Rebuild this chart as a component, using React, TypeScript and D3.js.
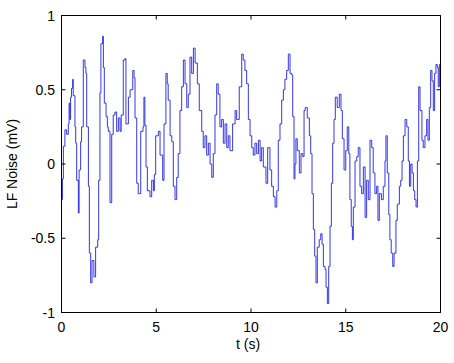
import React from "react";
import * as d3 from "d3";

const times: number[] = [
  0, 0.05, 0.1, 0.18, 0.27, 0.36, 0.4, 0.44, 0.48, 0.53, 0.59, 0.62, 0.71, 0.75, 0.8, 0.89, 0.93,
  1.01, 1.06, 1.15, 1.24, 1.29, 1.33, 1.42, 1.47, 1.54, 1.61, 1.71, 1.8, 1.91, 1.96,
  2.03, 2.08, 2.17, 2.21, 2.26, 2.35, 2.42, 2.47, 2.56, 2.65, 2.73, 2.82, 2.91,
  3.0, 3.09, 3.15, 3.26, 3.35, 3.4, 3.53, 3.62, 3.76, 3.83, 3.88, 3.97,
  4.05, 4.18, 4.3, 4.35, 4.4, 4.46, 4.53, 4.67, 4.76, 4.85, 4.9, 4.97,
  5.11, 5.2, 5.34, 5.41, 5.51, 5.58, 5.63, 5.73, 5.82, 5.9, 5.99,
  6.08, 6.16, 6.25, 6.34, 6.43, 6.52, 6.61, 6.69, 6.78, 6.87, 6.96,
  7.05, 7.17, 7.27, 7.4, 7.48, 7.57, 7.66, 7.75, 7.84, 7.93,
  8.01, 8.1, 8.19, 8.27, 8.36, 8.45, 8.54, 8.63, 8.72, 8.8, 8.89,
  9.03, 9.16, 9.24, 9.38, 9.51, 9.59, 9.68, 9.77, 9.86, 9.95,
  10.04, 10.12, 10.21, 10.3, 10.39, 10.48, 10.56, 10.65, 10.79, 10.88,
  11.0, 11.09, 11.18, 11.27, 11.36, 11.44, 11.53, 11.62, 11.71, 11.79, 11.88, 11.97,
  12.06, 12.15, 12.2, 12.27, 12.32, 12.37, 12.44, 12.55, 12.64, 12.73, 12.8, 12.86, 12.97,
  13.08, 13.15, 13.22, 13.29, 13.36, 13.43, 13.5, 13.6, 13.68, 13.75, 13.82, 13.91, 13.96,
  14.03, 14.1, 14.17, 14.24, 14.31, 14.38, 14.45, 14.55, 14.66, 14.75, 14.82, 14.91,
  15.0, 15.08, 15.16, 15.22, 15.29, 15.35, 15.4, 15.49, 15.58, 15.66, 15.75, 15.84, 15.93,
  16.02, 16.1, 16.19, 16.28, 16.37, 16.45, 16.54, 16.63, 16.7, 16.77, 16.88, 16.98,
  17.07, 17.12, 17.19, 17.27, 17.33, 17.4, 17.48, 17.55, 17.65, 17.72, 17.83, 17.9, 17.97,
  18.04, 18.13, 18.22, 18.3, 18.36, 18.43, 18.5, 18.57, 18.64, 18.71, 18.78, 18.85, 18.92,
  19.02, 19.09, 19.18, 19.27, 19.34, 19.41, 19.48, 19.55, 19.62, 19.69, 19.76, 19.83, 19.88, 19.94, 20.0,
];

const noise: number[] = [
  -0.24, -0.1, 0.12, 0.23, 0.2, 0.27, 0.41, 0.3, 0.45, 0.51, 0.57, 0.46, 0.25, 0.14, -0.11, -0.33, -0.04,
  0.15, 0.25, 0.7, 0.65, 0.61, 0.25, -0.15, -0.6, -0.8, -0.65, -0.76, -0.56, -0.51, -0.11,
  0.48, 0.81, 0.86, 0.65, 0.41, 0.32, 0.25, 0.22, -0.26, 0.2, 0.33, 0.35, 0.22,
  0.31, 0.22, 0.33, 0.7, 0.71, 0.27, 0.45, 0.5, 0.63, 0.58, 0.31, -0.13,
  -0.2, 0.22, 0.25, 0.45, 0.26, -0.02, -0.18, -0.22, -0.11, -0.18, -0.07, 0.19,
  0.22, 0.06, -0.11, 0.27, 0.61, 0.54, 0.43, 0.19, 0.15, -0.15, -0.24,
  -0.09, 0.07, 0.36, 0.52, 0.7, 0.54, 0.38, 0.47, 0.72, 0.61, 0.78,
  0.68, 0.54, 0.36, 0.22, 0.11, 0.19, 0.06, 0.14, 0.0, -0.09,
  0.07, 0.33, 0.54, 0.47, 0.25, 0.3, 0.14, 0.27, 0.11, 0.19, 0.09,
  0.27, 0.36, 0.3, 0.52, 0.74, 0.7, 0.63, 0.54, 0.3, 0.19,
  0.11, 0.06, 0.14, 0.07, 0.16, 0.02, 0.11, -0.02, -0.13, 0.11,
  -0.04, -0.15, -0.22, -0.29, -0.18, 0.16, 0.27, 0.43, 0.5, 0.57, 0.63, 0.74,
  0.61, 0.6, 0.32, -0.1, 0.0, 0.17, 0.09, -0.06, 0.07, 0.05, 0.36, 0.38, 0.31,
  0.19, 0.07, -0.2, -0.44, -0.62, -0.8, -0.56, -0.51, -0.47, -0.54, -0.69, -0.71, -0.83,
  -0.94, -0.69, -0.42, -0.13, 0.14, 0.3, 0.45, 0.38, 0.47, 0.36, 0.17, -0.04,
  0.09, 0.25, 0.07, -0.24, -0.42, -0.51, -0.29, 0.02, 0.05, 0.11, -0.15, -0.2, -0.02,
  -0.36, -0.11, -0.24, 0.16, 0.11, -0.06, -0.2, -0.15, -0.38, -0.2, -0.24, -0.15,
  0.02, 0.19, -0.06, -0.34, -0.51, -0.6, -0.69, -0.6, -0.38, -0.27, -0.15, -0.11, 0.02,
  0.19, 0.3, 0.25, 0.02, -0.15, 0.0, -0.06, -0.18, -0.24, -0.29, 0.02, 0.52, 0.36,
  0.16, 0.11, 0.19, 0.3, 0.16, 0.38, 0.63, 0.56, 0.36, 0.61, 0.67, 0.65, 0.52, 0.67, 0.6,
];

const xTicks: number[] = [0, 5, 10, 15, 20];
const yTicks: number[] = [-1, -0.5, 0, 0.5, 1];
const xLabel = "t (s)";
const yLabel = "LF Noise (mV)";

export default function App() {
  const W = 454;
  const H = 363;
  const left = 61.5;
  const right = 440.5;
  const top = 15.5;
  const bottom = 312.5;
  const x = d3.scaleLinear().domain([0, 20]).range([left, right]);
  const y = d3.scaleLinear().domain([-1, 1]).range([bottom, top]);
  const pts: [number, number][] = times.map((t, i) => [t, noise[i]]);
  const line = d3
    .line<[number, number]>()
    .x((d) => x(d[0]))
    .y((d) => y(d[1]))
    .curve(d3.curveStepAfter);
  const tl = 4;
  const font = "'Liberation Sans', Arial, sans-serif";
  const fmt = (v: number) => (v === 0 ? "0" : String(v));
  return (
    <svg
      width={W}
      height={H}
      style={{ position: "absolute", left: 0, top: 0, background: "#fff" }}
      fontFamily={font}
    >
      <rect x={0} y={0} width={W} height={H} fill="#fff" />
      <path d={line(pts) || ""} fill="none" stroke="#1f1fe8" strokeWidth={0.9} />
      <rect
        x={left}
        y={top}
        width={right - left}
        height={bottom - top}
        fill="none"
        stroke="#000"
        strokeWidth={1}
      />
      {xTicks.map((t) => (
        <g key={"x" + t}>
          <line x1={x(t)} x2={x(t)} y1={bottom} y2={bottom - tl} stroke="#000" />
          <line x1={x(t)} x2={x(t)} y1={top} y2={top + tl} stroke="#000" />
          <text x={x(t)} y={332} fontSize={14} textAnchor="middle" fill="#000">
            {fmt(t)}
          </text>
        </g>
      ))}
      {yTicks.map((v) => (
        <g key={"y" + v}>
          <line x1={left} x2={left + tl} y1={y(v)} y2={y(v)} stroke="#000" />
          <line x1={right} x2={right - tl} y1={y(v)} y2={y(v)} stroke="#000" />
          <text x={55} y={y(v) + 5} fontSize={14} textAnchor="end" fill="#000">
            {fmt(v)}
          </text>
        </g>
      ))}
      <text x={248} y={349} fontSize={14} textAnchor="middle" fill="#000">
        {xLabel}
      </text>
      <text
        transform={`translate(17,${(top + bottom) / 2}) rotate(-90)`}
        fontSize={14}
        textAnchor="middle"
        fill="#000"
      >
        {yLabel}
      </text>
    </svg>
  );
}
